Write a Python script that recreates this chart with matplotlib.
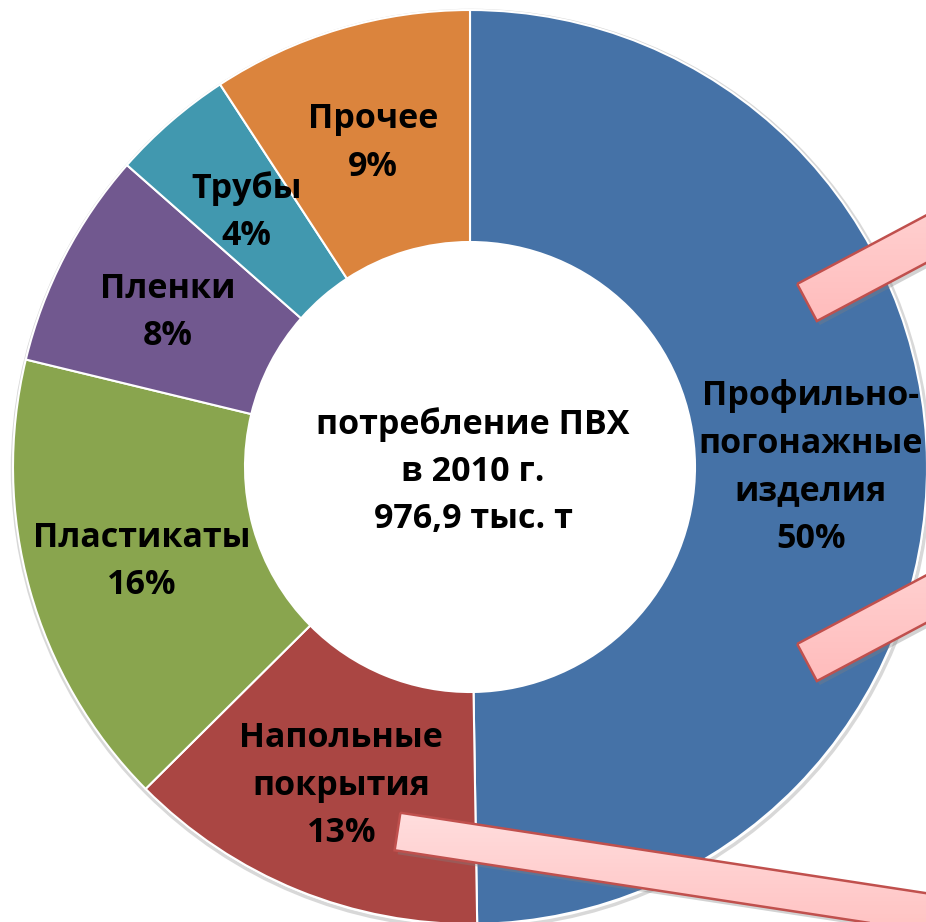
import numpy as np
import matplotlib
matplotlib.use("Agg")
import matplotlib.pyplot as plt
from matplotlib.patches import Polygon, Circle
from matplotlib.colors import to_rgb

# ---- data ----
categories = ["Профильно-\nпогонажные\nизделия", "Напольные\nпокрытия", "Пластикаты",
              "Пленки", "Трубы", "Прочее"]
values = [49.7, 12.8, 16.2, 7.7, 4.3, 9.2]
pct_labels = ["50%", "13%", "16%", "8%", "4%", "9%"]
colors = ["#4572A7", "#AA4643", "#89A54E", "#71588F", "#4198AF", "#DB843D"]
center_text = "потребление ПВХ\nв 2010 г.\n976,9 тыс. т"

FONT = ["Open Sans", "DejaVu Sans"]

W, H = 926, 922
fig = plt.figure(figsize=(W / 100, H / 100), dpi=100)
ax = fig.add_axes([0, 0, 1, 1])

cx, cy = 470, H - 467
R_out, R_in = 457, 225

# faint shadow rim around the ring
ax.add_patch(Circle((cx + 1, cy - 2), R_out + 1.5, facecolor="none", edgecolor="#c8c8c8",
                    linewidth=2.5, alpha=0.7, zorder=0))

wedges, _ = ax.pie(values, colors=colors, startangle=90, counterclock=False,
                   center=(cx, cy), radius=R_out, frame=True,
                   wedgeprops=dict(width=R_out - R_in, edgecolor="white", linewidth=1.5))
ax.set_xlim(0, W)
ax.set_ylim(0, H)
ax.set_aspect("equal")
ax.axis("off")

r_mid = (R_out + R_in) / 2
for w, name, pct in zip(wedges, categories, pct_labels):
    ang = np.deg2rad((w.theta1 + w.theta2) / 2)
    x = cx + r_mid * np.cos(ang)
    y = cy + r_mid * np.sin(ang)
    ax.text(x, y - 3, f"{name}\n{pct}", ha="center", va="center", fontsize=24.5,
            fontweight="bold", family=FONT, linespacing=1.52, color="black", zorder=4)

ax.text(cx + 3, cy - 5, center_text, ha="center", va="center", fontsize=24.5,
        fontweight="bold", family=FONT, linespacing=1.5, color="black", zorder=4)

# decorative pink block arrows (heads cut off by the figure edge)
top_c = np.array(to_rgb("#FFDEDE"))
bot_c = np.array(to_rgb("#FFBCBC"))

def band(x0, y0_img, angle_deg, width, length):
    y0 = H - y0_img
    a = np.deg2rad(angle_deg)
    d = np.array([np.cos(a), np.sin(a)])
    n = np.array([-np.sin(a), np.cos(a)])
    p = np.array([x0, y0])
    pts = np.array([p + n * width / 2, p + n * width / 2 + d * length,
                    p - n * width / 2 + d * length, p - n * width / 2])
    sh = Polygon(pts + np.array([3, -4]), closed=True, facecolor="#808080", edgecolor="none",
                 alpha=0.35, zorder=5)
    ax.add_patch(sh)
    poly = Polygon(pts, closed=True, facecolor="none", edgecolor="#C0504D",
                   linewidth=1.8, zorder=7)
    ax.add_patch(poly)
    xmin, ymin = pts.min(axis=0)
    xmax, ymax = pts.max(axis=0)
    t = np.linspace(0, 1, 256)[:, None]
    grad = (top_c * (1 - t) + bot_c * t).reshape(256, 1, 3)
    im = ax.imshow(grad, extent=(xmin, xmax, ymin, ymax), origin="upper",
                   aspect="auto", zorder=6, interpolation="bilinear")
    im.set_clip_path(poly)

band(807, 302.5, 28, 42, 320)
band(807, 662.5, 28, 42, 320)
band(397.5, 831.5, -8.7, 38, 700)

ax.set_xlim(0, W)
ax.set_ylim(0, H)

fig.savefig("out.png", dpi=100)
